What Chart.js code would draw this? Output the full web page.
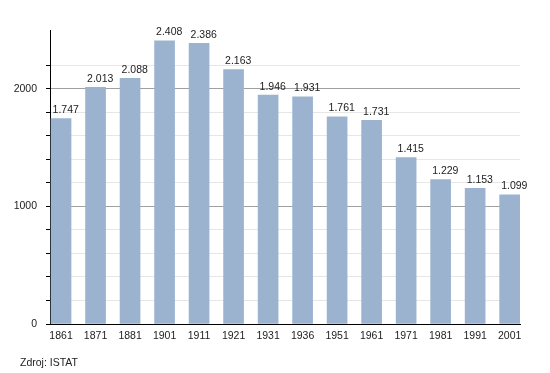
<!DOCTYPE html>
<html>
<head>
<meta charset="utf-8">
<script src="https://cdn.jsdelivr.net/npm/chart.js@4"></script>
<style>
  body { margin: 0; background: #fff; }
  #wrap { position: relative; width: 550px; height: 373px; }
  #zdroj { position: absolute; left: 20px; top: 356px; font: 10.5px "Liberation Sans", Arial, sans-serif; color: #222; }
</style>
</head>
<body>
<div id="wrap">
  <canvas id="grafico" width="550" height="373"></canvas>
  <div id="zdroj">Zdroj: ISTAT</div>
</div>
<script>
// Dati: popolazione per anno di censimento
const anni = ['1861', '1871', '1881', '1901', '1911', '1921', '1931', '1936', '1951', '1961', '1971', '1981', '1991', '2001'];
const abitanti = [1747, 2013, 2088, 2408, 2386, 2163, 1946, 1931, 1761, 1731, 1415, 1229, 1153, 1099];
const etichetteY = [0, 1000, 2000];

const font = { family: '"Liberation Sans", Arial, sans-serif', size: 10.5 };

function formatta(v) { // 1747 -> "1.747"
  if (v < 1000) return String(v);
  return Math.floor(v / 1000) + '.' + String(v % 1000).padStart(3, '0');
}

const etichetteBarre = { // scrive il valore sopra ogni barra
  id: 'etichetteBarre',
  afterDatasetsDraw(chart) {
    const ctx = chart.ctx;
    const meta = chart.getDatasetMeta(0);
    ctx.save();
    ctx.font = font.size + 'px ' + font.family;
    ctx.fillStyle = '#222';
    ctx.textAlign = 'left';
    ctx.textBaseline = 'alphabetic';
    meta.data.forEach((bar, i) => {
      ctx.fillText(formatta(abitanti[i]), bar.x - bar.width / 2 + 1.5, bar.y - 5.5);
    });
    ctx.restore();
  }
};

const dati = {
  datasets: [{
    data: abitanti.map((v, i) => ({ x: i, y: v })),
    backgroundColor: '#9bb3cf',
    borderWidth: 0,
    barThickness: 20
  }]
};

new Chart(document.getElementById('grafico'), {
  type: 'bar',
  data: dati,
  options: {
    responsive: false,
    animation: false,
    layout: { padding: { top: 30, right: 30, left: 0, bottom: 0 } },
    plugins: { legend: { display: false }, tooltip: { enabled: false } },
    scales: {
      x: {
        type: 'linear',
        min: -0.32,
        max: 13.3,
        offset: false,
        afterBuildTicks: s => { s.ticks = anni.map((a, i) => ({ value: i })); },
        afterFit: s => { s.height = 49; },
        grid: { display: false, drawTicks: false },
        border: { color: '#000', width: 1 },
        ticks: {
          autoSkip: false,
          maxRotation: 0,
          padding: 6,
          color: '#222',
          font: font,
          callback: v => anni[v] ?? ''
        }
      },
      y: {
        min: 0,
        max: 2500,
        afterFit: s => { s.width = 50; },
        ticks: {
          stepSize: 200,
          padding: 9,
          color: '#222',
          font: font,
          callback: v => etichetteY.includes(v) ? String(v) : ''
        },
        grid: {
          tickLength: 4,
          color: c => c.tick.value === 2500 ? 'rgba(0,0,0,0)' : (c.tick.value % 1000 === 0 ? '#a0a0a0' : '#e6e6e6'),
          tickColor: c => c.tick.value === 2500 ? 'rgba(0,0,0,0)' : '#000'
        },
        border: { color: '#000', width: 1 }
      }
    }
  },
  plugins: [etichetteBarre]
});
</script>
</body>
</html>
